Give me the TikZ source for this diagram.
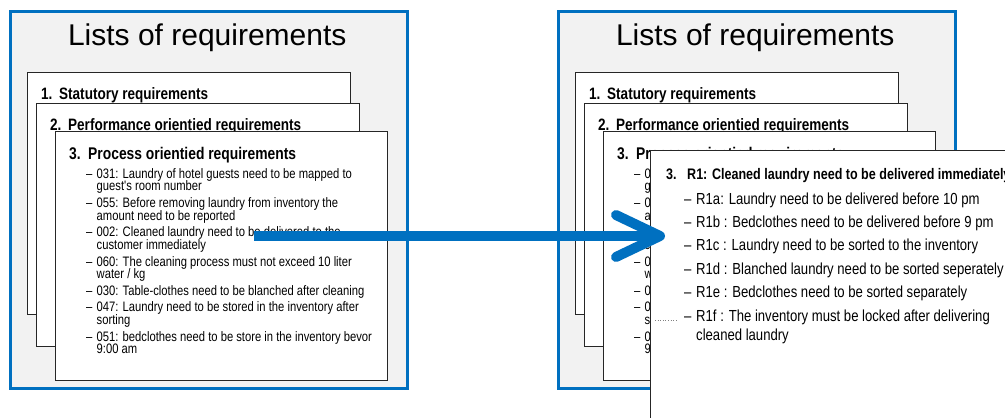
\documentclass[tikz,border=0pt]{standalone}
\usepackage{fontspec}
\setmainfont{Liberation Sans}
\newfontfamily\narrowfont{Liberation Sans}[FakeStretch=0.82]
\usetikzlibrary{positioning, arrows.meta}
\definecolor{frameblue}{RGB}{0,112,192}
\definecolor{panelbg}{RGB}{242,242,242}
\newcommand{\dashitem}[1]{\makebox[#1][l]{–}}
\newcommand{\tightlines}{\lineskiplimit=-20pt\relax\lineskip=0pt\relax}

\begin{document}
\begin{tikzpicture}[x=1pt, y=-1pt,
  panel/.style={
    rectangle, draw=frameblue, line width=3pt, fill=panelbg, anchor=north west,
    minimum width=396.5pt, minimum height=377pt, inner sep=0pt
  },
  paneltitle/.style={anchor=base, inner sep=0pt, font=\fontsize{30}{36}\selectfont},
  card/.style={rectangle, draw=black!85, line width=1.2pt, fill=white, anchor=north west, inner sep=0pt},
  cardtitle/.style={anchor=base west, inner sep=0pt, font=\narrowfont\bfseries\fontsize{16.5}{20}\selectfont},
  itemlist/.style={anchor=north west, inner sep=0pt, align=left,
    font=\narrowfont\fontsize{13.7}{12.7}\selectfont\tightlines},
  r1list/.style={anchor=north west, inner sep=0pt, align=left,
    font=\narrowfont\fontsize{16}{19}\selectfont\tightlines},
  bigarrow/.style={frameblue, line width=10pt, -{Straight Barb[length=44pt, width=42pt, round]}}
]
\useasboundingbox (0,0) rectangle (1005,418);
\clip (0,0) rectangle (1005,418);

% two panels, the right one gets the overlay card
\foreach \p/\dx in {L/0, R/548} {
  \begin{scope}[xshift=\dx]
    \node[panel] (panel\p) at (9,9.5) {};
    \node[paneltitle] (title\p) at (207.25,45) {Lists of requirements};

    \node[card, minimum width=322.5pt, minimum height=242pt] (card1\p) at (27,72) {};
    \node[cardtitle] (head1\p) at ([shift={(14,27)}]card1\p.north west)
      {\makebox[18pt][l]{1.}Statutory requirements};

    \node[card, minimum width=323pt, minimum height=243pt] (card2\p) at (36,103) {};
    \node[cardtitle] (head2\p) at ([shift={(14,27)}]card2\p.north west)
      {\makebox[18pt][l]{2.}Performance orientied requirements};

    \node[card, minimum width=332pt, minimum height=249pt] (card3\p) at (55,131) {};
    \node[cardtitle, font=\narrowfont\bfseries\fontsize{16.9}{20}\selectfont] (head3\p)
      at ([shift={(14,28)}]card3\p.north west)
      {\makebox[19pt][l]{3.}Process orientied requirements};
    \node[itemlist] (items\p) at ([shift={(31,37)}]card3\p.north west) {
      \dashitem{10.5pt}031: Laundry of hotel guests need to be mapped to\\
      \hspace*{10.5pt}guest's room number\\[3.9pt]
      \dashitem{10.5pt}055: Before removing laundry from inventory the\\
      \hspace*{10.5pt}amount need to be reported\\[3.9pt]
      \dashitem{10.5pt}002: Cleaned laundry need to be delivered to the\\
      \hspace*{10.5pt}customer immediately\\[3.9pt]
      \dashitem{10.5pt}060: The cleaning process must not exceed 10 liter\\
      \hspace*{10.5pt}water / kg\\[3.9pt]
      \dashitem{10.5pt}030: Table-clothes need to be blanched after cleaning\\[3.9pt]
      \dashitem{10.5pt}047: Laundry need to be stored in the inventory after\\
      \hspace*{10.5pt}sorting\\[3.9pt]
      \dashitem{10.5pt}051: bedclothes need to be store in the inventory bevor\\
      \hspace*{10.5pt}9:00 am
    };
  \end{scope}
}

% overlay card with the refined requirement
\node[card, minimum width=400pt, minimum height=300pt] (r1card) at (650,150) {};
\node[cardtitle, font=\narrowfont\bfseries\fontsize{15.3}{19}\selectfont] (r1head)
  at ([shift={(16,29.5)}]r1card.north west)
  {\makebox[21pt][l]{3.}R1: Cleaned laundry need to be delivered immediately};
\node[r1list] (r1items) at ([shift={(34,42.3)}]r1card.north west) {
  \dashitem{12pt}R1a: Laundry need to be delivered before 10 pm\\[4.4pt]
  \dashitem{12pt}R1b : Bedclothes need to be delivered before 9 pm\\[4.4pt]
  \dashitem{12pt}R1c : Laundry need to be sorted to the inventory\\[4.4pt]
  \dashitem{12pt}R1d : Blanched laundry need to be sorted seperately\\[4.4pt]
  \dashitem{12pt}R1e : Bedclothes need to be sorted separately\\[4.4pt]
  \dashitem{12pt}R1f : The inventory must be locked after delivering\\
  \hspace*{12pt}cleaned laundry
};
\draw[gray, dotted, line width=0.6pt] (r1card.west |- 0,320) ++(5,0) -- ++(23,0);

\coordinate (arrowstart) at (254,236);
\coordinate (arrowend) at ([xshift=15pt]arrowstart -| r1card.west);
\draw[bigarrow] (arrowstart) -- (arrowend);

\end{tikzpicture}
\end{document}
